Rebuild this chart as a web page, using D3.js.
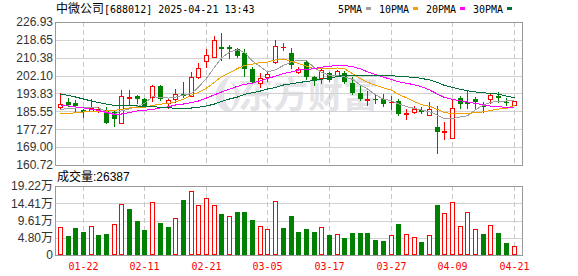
<!DOCTYPE html>
<html>
<head>
<meta charset="utf-8">
<script src="https://cdn.jsdelivr.net/npm/d3@7"></script>
<style>
body { margin: 0; background: #fff; }
svg { display: block; }
</style>
</head>
<body>
<svg class="figure" width="578" height="276"></svg>
<script>
'use strict' ;

let stockName = "中微公司" ;
let stockCode = "688012" ;
let timestamp = "2025-04-21 13:43" ;
let lastVolume = 26387 ;

let dates = [
	"01-17", "01-20", "01-21", "01-22", "01-23", "01-24", "01-27",
	"02-05", "02-06", "02-07", "02-10", "02-11", "02-12", "02-13", "02-14",
	"02-17", "02-18", "02-19", "02-20", "02-21", "02-24", "02-25", "02-26",
	"02-27", "02-28", "03-03", "03-04", "03-05", "03-06", "03-07", "03-10",
	"03-11", "03-12", "03-13", "03-14", "03-17", "03-18", "03-19", "03-20",
	"03-21", "03-24", "03-25", "03-26", "03-27", "03-28", "03-31", "04-01",
	"04-02", "04-03", "04-07", "04-08", "04-09", "04-10", "04-11", "04-14",
	"04-15", "04-16", "04-17", "04-18", "04-21"
] ;

let opens = [
	187.44, 189.89, 189.29, 186.33, 185.86, 185.95, 186.19, 185.03, 180.31, 191.97,
	192.67, 191.14, 192.07, 197.07, 189.43, 191.14, 193.46, 192.67, 201.61, 208.87,
	210.86, 215.49, 215.36, 214.43, 212.44, 205.03, 198.55, 201.33, 208.27, 215.26,
	212.44, 203.64, 208.55, 201.61, 200.86, 203.46, 202.39, 203.46, 198.83, 193.92,
	190.82, 191.28, 191.14, 189.89, 190.49, 184.33, 185.40, 186.19, 183.73, 178.45,
	176.00, 173.09, 191.97, 189.66, 191.28, 188.04, 191.14, 192.67, 190.03, 188.64
] ;
let highs = [
	193.92, 191.60, 190.82, 186.79, 191.14, 187.44, 187.44, 186.19, 195.45, 195.45,
	193.27, 191.60, 197.76, 197.53, 191.05, 195.77, 199.01, 203.92, 207.81, 214.57,
	220.45, 221.98, 216.28, 214.75, 214.29, 206.24, 203.18, 204.24, 218.60, 217.35,
	214.75, 206.24, 209.01, 202.07, 205.49, 204.01, 204.71, 204.24, 201.61, 197.30,
	194.98, 193.13, 193.60, 192.67, 191.14, 186.65, 188.04, 187.71, 190.03, 188.04,
	180.77, 191.28, 192.44, 195.45, 192.34, 190.03, 193.37, 194.52, 191.60, 190.49
] ;
let lows = [
	187.11, 188.04, 185.86, 183.08, 185.72, 185.26, 180.17, 178.78, 180.17, 188.36,
	189.43, 187.58, 190.36, 190.91, 186.97, 190.03, 192.34, 192.44, 201.14, 205.96,
	210.72, 209.34, 210.13, 210.86, 201.93, 198.55, 196.97, 199.75, 207.81, 213.97,
	205.49, 203.18, 200.40, 197.76, 198.83, 199.61, 202.16, 198.55, 193.46, 190.82,
	188.50, 189.57, 188.04, 186.51, 184.10, 182.02, 184.66, 184.66, 183.73, 166.42,
	172.62, 172.99, 186.97, 187.25, 186.97, 185.40, 189.29, 190.03, 188.50, 188.64
] ;
let closes = [
	188.97, 188.36, 187.81, 185.26, 187.34, 186.42, 180.31, 182.16, 192.53, 192.30,
	191.42, 188.04, 197.30, 191.14, 190.68, 193.46, 192.67, 201.33, 205.49, 211.65,
	218.60, 214.29, 214.66, 211.33, 205.03, 199.01, 200.86, 202.86, 215.96, 215.49,
	207.02, 205.17, 201.33, 199.75, 204.71, 200.08, 204.24, 199.01, 193.92, 191.28,
	191.05, 190.91, 188.83, 190.12, 184.33, 184.57, 186.65, 185.12, 186.51, 176.14,
	176.46, 186.97, 188.97, 189.06, 189.89, 187.44, 193.00, 191.88, 189.57, 190.22
] ;
// volume, in 万 (10k lots)
let volumes = [
	7.72, 5.29, 7.52, 6.41, 7.99, 5.57, 5.85, 8.64, 14.21, 12.81,
	9.47, 6.96, 14.68, 8.91, 7.80, 10.22, 15.32, 17.74, 13.93, 15.79,
	13.93, 11.50, 10.78, 11.98, 11.98, 9.75, 7.99, 7.24, 14.96, 7.52,
	10.86, 6.41, 7.24, 6.41, 7.72, 5.57, 5.85, 4.74, 6.13, 6.13,
	6.13, 4.18, 3.90, 5.57, 8.64, 5.85, 5.01, 3.62, 5.57, 13.93,
	11.70, 14.76, 8.08, 11.98, 7.24, 5.85, 8.36, 6.13, 3.34, 2.64
] ;

// MA values before enough closes are on screen
let ma5Head = [ 186.42, 186.88, 187.11, 187.34 ] ;
let ma10Head = [ 184.33, 184.57, 184.89, 185.26, 185.49, 185.63, 185.72, 186.05, 186.42 ] ;
let ma20Head = [
	188.50, 188.04, 187.58, 187.11, 186.51, 185.95, 185.03, 184.10, 184.33, 185.03,
	185.72, 186.05, 186.42, 187.11, 187.67, 188.50, 188.96, 189.66, 190.35
] ;
let ma30Head = [
	193.59, 192.90, 192.20, 191.28, 190.35, 189.66, 188.96, 188.27, 188.04, 188.04,
	188.04, 187.81, 187.71, 187.44, 187.25, 186.97, 186.97, 187.11, 187.44, 188.04,
	188.96, 190.12, 191.28, 192.20, 193.46, 194.20, 194.98, 195.91, 196.60
] ;

let priceTicks = [ 226.93, 218.65, 210.38, 202.10, 193.83, 185.55, 177.27, 169.00, 160.72 ] ;
let volumeTicks = [ 19.22, 14.41, 9.61, 4.80, 0 ] ;
let dateTicks = [ "01-22", "02-11", "02-21", "03-05", "03-17", "03-27", "04-09", "04-21" ] ;

let maNames = [ "5PMA", "10PMA", "20PMA", "30PMA" ] ;
let maColours = [ "#a0a0a0", "#f2a000", "#ff00ff", "#00703a" ] ;

let geom = {
	left: 55.5,
	right: 522.5,
	price: { top: 22, bottom: 165 },
	volume: { top: 186, bottom: 255 }
} ;
let colours = { up: "#ff0000", down: "#008000", grid: "#d2d2d2", border: "#999999", label: "#333333" } ;

let svg = d3.select( "svg.figure" ) ;

let x = d3.scaleBand().domain( dates ).range( [ 56, 517.4 ] ) ;
let cx = d => Math.round( x( d ) + x.bandwidth() / 2 ) ;
let y = d3.scaleLinear().domain( [ 160.72, 226.93 ] ).range( [ geom.price.bottom, geom.price.top ] ) ;
let yv = d3.scaleLinear().domain( [ 0, 19.22 ] ).range( [ geom.volume.bottom, geom.volume.top ] ) ;
let px = v => Math.round( v ) + 0.5 ;

let movingAverage = function( n, head ) {
	return closes.map( ( c, i ) => {
		if( i < n - 1 ) {
			return head[i] ;
		}
		return d3.mean( closes.slice( i - n + 1, i + 1 )) ;
	} ) ;
} ;
let mas = [
	movingAverage( 5, ma5Head ),
	movingAverage( 10, ma10Head ),
	movingAverage( 20, ma20Head ),
	movingAverage( 30, ma30Head )
] ;

// watermark
{
	let wm = svg.append( "g" ).attr( "fill", "#e3e3e8" ) ;
	wm.append( "path" )
		.attr( "d", "M226,112 C212,104 210,84 234,73 C222,84 220,100 232,110 Z M229,113 C238,100 236,88 229,80 C243,88 244,104 229,113 Z" ) ;
	wm.append( "text" )
		.attr( "x", 238 )
		.attr( "y", 108 )
		.attr( "font-family", "Noto Sans CJK SC" )
		.attr( "font-weight", "bold" )
		.attr( "font-size", 36 )
		.attr( "textLength", 140 )
		.attr( "lengthAdjust", "spacingAndGlyphs" )
		.text( "东方财富" ) ;
}

// grids
let drawPanelGrid = function( ys, top, bottom ) {
	let g = svg.append( "g" ).attr( "shape-rendering", "crispEdges" ) ;
	g.selectAll( "line.h" )
		.data( ys )
		.enter()
		.append( "line" )
		.attr( "x1", geom.left ).attr( "x2", geom.right )
		.attr( "y1", d => px( d ) ).attr( "y2", d => px( d ) )
		.attr( "stroke", colours.grid ) ;
	g.selectAll( "line.v" )
		.data( dateTicks )
		.enter()
		.append( "line" )
		.attr( "x1", d => cx( d ) + 0.5 ).attr( "x2", d => cx( d ) + 0.5 )
		.attr( "y1", top ).attr( "y2", bottom )
		.attr( "stroke", "#c8c8c8" )
		.attr( "stroke-dasharray", "5,3" ) ;
} ;
drawPanelGrid( priceTicks.map( y ), geom.price.top, geom.price.bottom ) ;
drawPanelGrid( volumeTicks.map( yv ), geom.volume.top, geom.volume.bottom ) ;

// candles
{
	let g = svg.append( "g" ).attr( "shape-rendering", "crispEdges" ) ;
	for( let i = 0; i < dates.length; ++i ) {
		let o = opens[i], c = closes[i] ;
		let up = c >= o ;
		let xc = cx( dates[i] ) ;
		let top = Math.round( y( Math.max( o, c ))) ;
		let bot = Math.round( y( Math.min( o, c ))) ;
		let hi = Math.round( y( highs[i] )) ;
		let lo = Math.round( y( lows[i] )) ;
		let colour = up ? colours.up : colours.down ;
		if( up ) {
			if( hi < top ) {
				g.append( "line" ).attr( "x1", xc + 0.5 ).attr( "x2", xc + 0.5 )
					.attr( "y1", hi ).attr( "y2", top ).attr( "stroke", colour ) ;
			}
			if( lo > bot ) {
				g.append( "line" ).attr( "x1", xc + 0.5 ).attr( "x2", xc + 0.5 )
					.attr( "y1", bot + 1 ).attr( "y2", lo + 1 ).attr( "stroke", colour ) ;
			}
			if( bot - top < 1 ) {
				g.append( "line" ).attr( "x1", xc - 2 ).attr( "x2", xc + 3 )
					.attr( "y1", top + 0.5 ).attr( "y2", top + 0.5 ).attr( "stroke", colour ) ;
			} else {
				g.append( "rect" )
					.attr( "x", xc - 2 + 0.5 ).attr( "y", top + 0.5 )
					.attr( "width", 4 ).attr( "height", bot - top )
					.attr( "fill", "#fff" ).attr( "stroke", colour ) ;
			}
		} else {
			g.append( "line" ).attr( "x1", xc + 0.5 ).attr( "x2", xc + 0.5 )
				.attr( "y1", hi ).attr( "y2", lo + 1 ).attr( "stroke", colour ) ;
			g.append( "rect" )
				.attr( "x", xc - 2 ).attr( "y", top )
				.attr( "width", 5 ).attr( "height", Math.max( bot - top, 1 ))
				.attr( "fill", colour ) ;
		}
	}
}

// moving averages, drawn aliased like the original
{
	let line = d3.line()
		.x( ( d, i ) => cx( dates[i] ) + 0.5 )
		.y( d => y( d ) ) ;
	svg.append( "g" )
		.attr( "shape-rendering", "crispEdges" )
		.selectAll( "path" )
		.data( mas )
		.enter()
		.append( "path" )
		.attr( "d", line )
		.attr( "fill", "none" )
		.attr( "stroke", ( d, i ) => maColours[i] )
		.attr( "stroke-width", 1 ) ;
}

// volume bars
{
	let g = svg.append( "g" ).attr( "shape-rendering", "crispEdges" ) ;
	g.selectAll( "rect" )
		.data( volumes )
		.enter()
		.append( "rect" )
		.each( function( v, i ) {
			let up = i == 0 ? closes[0] >= opens[0] : closes[i] >= closes[i - 1] ;
			let xc = cx( dates[i] ) ;
			let top = Math.round( yv( v )) ;
			let sel = d3.select( this ) ;
			if( up ) {
				sel.attr( "x", xc - 2 + 0.5 ).attr( "y", top + 0.5 )
					.attr( "width", 4 ).attr( "height", geom.volume.bottom - top - 1 )
					.attr( "fill", "#fff" ).attr( "stroke", colours.up ) ;
			} else {
				sel.attr( "x", xc - 2 ).attr( "y", top )
					.attr( "width", 5 ).attr( "height", geom.volume.bottom - top )
					.attr( "fill", colours.down ) ;
			}
		} ) ;
}

// borders
{
	let g = svg.append( "g" ).attr( "shape-rendering", "crispEdges" ).attr( "fill", "none" ).attr( "stroke", colours.border ) ;
	g.append( "rect" )
		.attr( "x", geom.left ).attr( "y", geom.price.top + 0.5 )
		.attr( "width", geom.right - geom.left ).attr( "height", geom.price.bottom - geom.price.top ) ;
	g.append( "rect" )
		.attr( "x", geom.left ).attr( "y", geom.volume.top + 0.5 )
		.attr( "width", geom.right - geom.left ).attr( "height", geom.volume.bottom - geom.volume.top ) ;
}

// axis labels
{
	let fmt = d3.format( ".2f" ) ;
	svg.append( "g" )
		.attr( "font-family", "Liberation Sans, Arial, sans-serif" )
		.attr( "font-size", 12 )
		.attr( "fill", colours.label )
		.attr( "text-anchor", "end" )
		.selectAll( "text" )
		.data( priceTicks )
		.enter()
		.append( "text" )
		.attr( "x", 53 )
		.attr( "y", d => y( d ) + 4.3 )
		.text( d => fmt( d ) ) ;
	svg.append( "g" )
		.attr( "font-family", "Liberation Sans, Arial, Noto Sans CJK SC, sans-serif" )
		.attr( "font-size", 12 )
		.attr( "fill", colours.label )
		.attr( "text-anchor", "end" )
		.selectAll( "text" )
		.data( volumeTicks )
		.enter()
		.append( "text" )
		.attr( "x", 53 )
		.attr( "y", d => yv( d ) + 4.3 )
		.text( d => d == 0 ? "0" : fmt( d ) + "万" ) ;
	svg.append( "g" )
		.attr( "font-family", "DejaVu Sans Mono, monospace" )
		.attr( "font-size", 10 )
		.attr( "fill", colours.up )
		.attr( "text-anchor", "middle" )
		.selectAll( "text" )
		.data( dateTicks )
		.enter()
		.append( "text" )
		.attr( "x", d => cx( d ) + 0.5 )
		.attr( "y", 270 )
		.text( d => d ) ;
}

// title, legend, volume caption
{
	let title = svg.append( "text" ).attr( "x", 56 ).attr( "y", 12.5 ).attr( "fill", "#000" ) ;
	title.append( "tspan" ).attr( "font-family", "Noto Sans CJK SC" ).attr( "font-size", 12 ).text( stockName ) ;
	title.append( "tspan" ).attr( "font-family", "DejaVu Sans Mono" ).attr( "font-size", 10 )
		.text( "[" + stockCode + "] " + timestamp ) ;

	let cursor = 338 ;
	for( let i = 0; i < maNames.length; ++i ) {
		let w = maNames[i].length * 6.02 ;
		svg.append( "text" )
			.attr( "x", cursor ).attr( "y", 12.5 )
			.attr( "font-family", "DejaVu Sans Mono" ).attr( "font-size", 10 )
			.attr( "fill", "#000" )
			.text( maNames[i] ) ;
		svg.append( "rect" )
			.attr( "x", Math.round( cursor + w + 4 )).attr( "y", 7 )
			.attr( "width", 5 ).attr( "height", 3 )
			.attr( "fill", maColours[i] ) ;
		cursor = Math.round( cursor + w + 4 ) + 5 + 8 ;
	}

	svg.append( "text" )
		.attr( "x", 57 ).attr( "y", 181 )
		.attr( "font-family", "Liberation Sans, Noto Sans CJK SC, sans-serif" )
		.attr( "font-size", 12 )
		.attr( "fill", "#000" )
		.text( "成交量:" + lastVolume ) ;
}
</script>
</body>
</html>
